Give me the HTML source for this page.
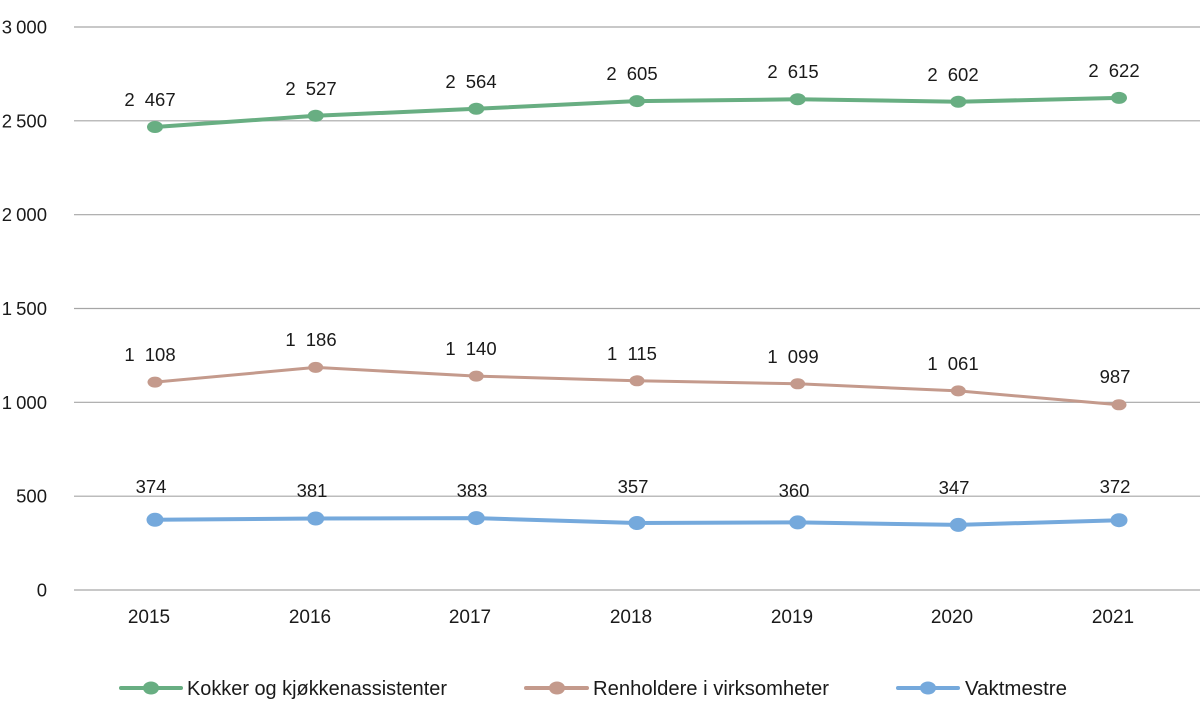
<!DOCTYPE html>
<html>
<head>
<meta charset="utf-8">
<style>
  html, body { margin: 0; padding: 0; background: #ffffff; }
  svg { display: block; }
  text { font-family: "Liberation Sans", Arial, sans-serif; fill: #1a1a1a; }
</style>
</head>
<body>
<svg width="1200" height="715" viewBox="0 0 1200 715" xmlns="http://www.w3.org/2000/svg">
  <!-- gridlines -->
  <g stroke="#a6a6a6" stroke-width="1.2">
    <line x1="74" y1="27" x2="1200" y2="27"/>
    <line x1="74" y1="120.8" x2="1200" y2="120.8"/>
    <line x1="74" y1="214.7" x2="1200" y2="214.7"/>
    <line x1="74" y1="308.5" x2="1200" y2="308.5"/>
    <line x1="74" y1="402.3" x2="1200" y2="402.3"/>
    <line x1="74" y1="496.2" x2="1200" y2="496.2"/>
    <line x1="74" y1="590" x2="1200" y2="590"/>
  </g>
  <!-- y tick labels -->
  <g font-size="18.5" text-anchor="end" word-spacing="-1">
    <text x="47" y="33.5">3 000</text>
    <text x="47" y="127.3">2 500</text>
    <text x="47" y="221.2">2 000</text>
    <text x="47" y="315">1 500</text>
    <text x="47" y="408.8">1 000</text>
    <text x="47" y="502.7">500</text>
    <text x="47" y="596.5">0</text>
  </g>
  <!-- x labels -->
  <g font-size="19" text-anchor="middle">
    <text x="149" y="623">2015</text>
    <text x="310" y="623">2016</text>
    <text x="470" y="623">2017</text>
    <text x="631" y="623">2018</text>
    <text x="792" y="623">2019</text>
    <text x="952" y="623">2020</text>
    <text x="1113" y="623">2021</text>
  </g>

  <!-- Green series -->
  <polyline fill="none" stroke="#68ae82" stroke-width="4" stroke-linejoin="round"
    points="155,127 315.7,115.8 476.3,108.8 637,101.1 797.7,99.3 958.3,101.7 1119,97.9"/>
  <g fill="#68ae82">
    <ellipse cx="155" cy="127" rx="8" ry="6"/>
    <ellipse cx="315.7" cy="115.8" rx="8" ry="6"/>
    <ellipse cx="476.3" cy="108.8" rx="8" ry="6"/>
    <ellipse cx="637" cy="101.1" rx="8" ry="6"/>
    <ellipse cx="797.7" cy="99.3" rx="8" ry="6"/>
    <ellipse cx="958.3" cy="101.7" rx="8" ry="6"/>
    <ellipse cx="1119" cy="97.9" rx="8" ry="6"/>
  </g>
  <g font-size="18.5" text-anchor="middle" word-spacing="5">
    <text x="150" y="106">2 467</text>
    <text x="311" y="95">2 527</text>
    <text x="471" y="88">2 564</text>
    <text x="632" y="80">2 605</text>
    <text x="793" y="78">2 615</text>
    <text x="953" y="81">2 602</text>
    <text x="1114" y="77">2 622</text>
  </g>

  <!-- Brown series -->
  <polyline fill="none" stroke="#c49a8c" stroke-width="3" stroke-linejoin="round"
    points="155,382.1 315.7,367.4 476.3,376.1 637,380.8 797.7,383.8 958.3,390.9 1119,404.8"/>
  <g fill="#c49a8c">
    <ellipse cx="155" cy="382.1" rx="7.5" ry="5.5"/>
    <ellipse cx="315.7" cy="367.4" rx="7.5" ry="5.5"/>
    <ellipse cx="476.3" cy="376.1" rx="7.5" ry="5.5"/>
    <ellipse cx="637" cy="380.8" rx="7.5" ry="5.5"/>
    <ellipse cx="797.7" cy="383.8" rx="7.5" ry="5.5"/>
    <ellipse cx="958.3" cy="390.9" rx="7.5" ry="5.5"/>
    <ellipse cx="1119" cy="404.8" rx="7.5" ry="5.5"/>
  </g>
  <g font-size="18.5" text-anchor="middle" word-spacing="5">
    <text x="150" y="361">1 108</text>
    <text x="311" y="346">1 186</text>
    <text x="471" y="355">1 140</text>
    <text x="632" y="360">1 115</text>
    <text x="793" y="363">1 099</text>
    <text x="953" y="370">1 061</text>
    <text x="1115" y="383">987</text>
  </g>

  <!-- Blue series -->
  <polyline fill="none" stroke="#75a9dc" stroke-width="4" stroke-linejoin="round"
    points="155,519.8 315.7,518.5 476.3,518.1 637,523 797.7,522.4 958.3,524.9 1119,520.2"/>
  <g fill="#75a9dc">
    <ellipse cx="155" cy="519.8" rx="8.5" ry="7"/>
    <ellipse cx="315.7" cy="518.5" rx="8.5" ry="7"/>
    <ellipse cx="476.3" cy="518.1" rx="8.5" ry="7"/>
    <ellipse cx="637" cy="523" rx="8.5" ry="7"/>
    <ellipse cx="797.7" cy="522.4" rx="8.5" ry="7"/>
    <ellipse cx="958.3" cy="524.9" rx="8.5" ry="7"/>
    <ellipse cx="1119" cy="520.2" rx="8.5" ry="7"/>
  </g>
  <g font-size="18.5" text-anchor="middle">
    <text x="151" y="493">374</text>
    <text x="312" y="497">381</text>
    <text x="472" y="497">383</text>
    <text x="633" y="493">357</text>
    <text x="794" y="497">360</text>
    <text x="954" y="494">347</text>
    <text x="1115" y="493">372</text>
  </g>

  <!-- Legend -->
  <g stroke-linecap="round">
    <line x1="121" y1="688" x2="181" y2="688" stroke="#68ae82" stroke-width="4"/>
    <ellipse cx="151" cy="688" rx="8" ry="6.5" fill="#68ae82"/>
    <line x1="526" y1="688" x2="587" y2="688" stroke="#c49a8c" stroke-width="4"/>
    <ellipse cx="557" cy="688" rx="8" ry="6.5" fill="#c49a8c"/>
    <line x1="898" y1="688" x2="958" y2="688" stroke="#75a9dc" stroke-width="4"/>
    <ellipse cx="928" cy="688" rx="8" ry="6.5" fill="#75a9dc"/>
  </g>
  <g font-size="20">
    <text x="187" y="695" textLength="260" lengthAdjust="spacingAndGlyphs">Kokker og kjøkkenassistenter</text>
    <text x="593" y="695" textLength="236" lengthAdjust="spacingAndGlyphs">Renholdere i virksomheter</text>
    <text x="965" y="695" textLength="102" lengthAdjust="spacingAndGlyphs">Vaktmestre</text>
  </g>
</svg>
</body>
</html>
